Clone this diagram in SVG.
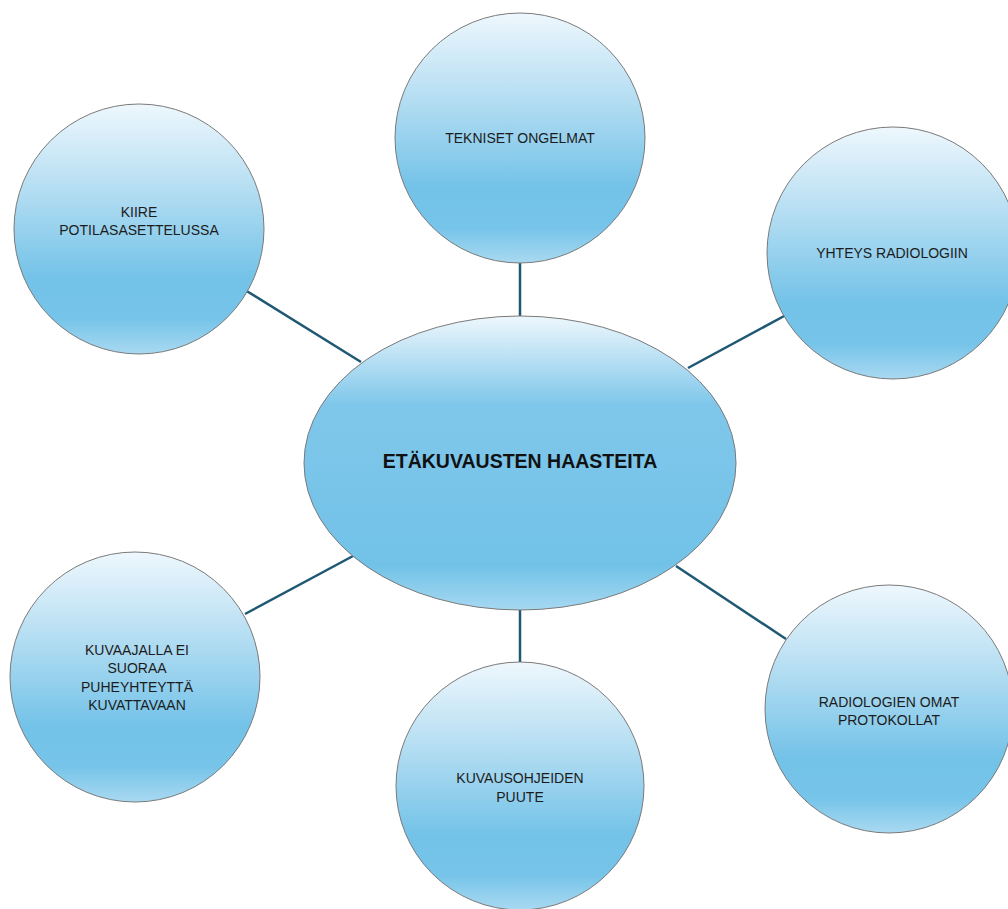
<svg xmlns="http://www.w3.org/2000/svg" width="1008" height="909" viewBox="0 0 1008 909">
  <defs>
    <linearGradient id="gc" x1="0" y1="0" x2="0" y2="1">
      <stop offset="0" stop-color="#eef7fd"/>
      <stop offset="0.35" stop-color="#b3ddf2"/>
      <stop offset="0.7" stop-color="#73c2e8"/>
      <stop offset="0.86" stop-color="#76c4e9"/>
      <stop offset="1" stop-color="#a9d9f1"/>
    </linearGradient>
    <linearGradient id="ge" x1="0" y1="0" x2="0" y2="1">
      <stop offset="0" stop-color="#eef7fd"/>
      <stop offset="0.3" stop-color="#7fc7ea"/>
      <stop offset="0.85" stop-color="#72c2e8"/>
      <stop offset="1" stop-color="#a6d8f1"/>
    </linearGradient>
  </defs>
  <style>
    .n { stroke: #7a7a7a; stroke-width: 1; }
    .c { fill: url(#gc); }
    .e { fill: url(#ge); }
    .t { font-family: "Liberation Sans", Arial, sans-serif; font-size: 14px; fill: #1c1c1c; text-anchor: middle; }
    .tb { font-family: "Liberation Sans", Arial, sans-serif; font-size: 19.5px; font-weight: bold; fill: #111; text-anchor: middle; }
    .l { stroke: #1f5873; stroke-width: 2.5; fill: none; }
  </style>
  <rect width="1008" height="909" fill="#ffffff"/>
  <g id="connectors">
    <line class="l" x1="520" y1="262" x2="520" y2="317"/>
    <line class="l" x1="245" y1="290" x2="361" y2="362"/>
    <line class="l" x1="688" y1="368" x2="786" y2="315"/>
    <line class="l" x1="245" y1="614" x2="353" y2="556"/>
    <line class="l" x1="676" y1="566" x2="786" y2="639"/>
    <line class="l" x1="520" y1="609" x2="520" y2="664"/>
  </g>
  <g id="center">
    <ellipse class="n e" cx="520" cy="463" rx="216" ry="147"/>
    <text class="tb" x="520" y="468">ETÄKUVAUSTEN HAASTEITA</text>
  </g>
  <g id="tekniset">
    <circle class="n c" cx="520" cy="138" r="125"/>
    <text class="t" x="520" y="143">TEKNISET ONGELMAT</text>
  </g>
  <g id="kiire">
    <circle class="n c" cx="139" cy="229" r="125"/>
    <text class="t" x="139" y="217">KIIRE</text>
    <text class="t" x="139" y="235">POTILASASETTELUSSA</text>
  </g>
  <g id="yhteys">
    <circle class="n c" cx="893" cy="253" r="126"/>
    <text class="t" x="892" y="258">YHTEYS RADIOLOGIIN</text>
  </g>
  <g id="kuvaajalla">
    <circle class="n c" cx="135" cy="677" r="125"/>
    <text class="t" x="137" y="655">KUVAAJALLA EI</text>
    <text class="t" x="137" y="673">SUORAA</text>
    <text class="t" x="137" y="692">PUHEYHTEYTTÄ</text>
    <text class="t" x="137" y="710">KUVATTAVAAN</text>
  </g>
  <g id="kuvausohjeiden">
    <circle class="n c" cx="520" cy="786" r="124"/>
    <text class="t" x="520" y="783">KUVAUSOHJEIDEN</text>
    <text class="t" x="520" y="802">PUUTE</text>
  </g>
  <g id="radiologien">
    <circle class="n c" cx="889" cy="709" r="124"/>
    <text class="t" x="889" y="707">RADIOLOGIEN OMAT</text>
    <text class="t" x="889" y="725">PROTOKOLLAT</text>
  </g>
</svg>
